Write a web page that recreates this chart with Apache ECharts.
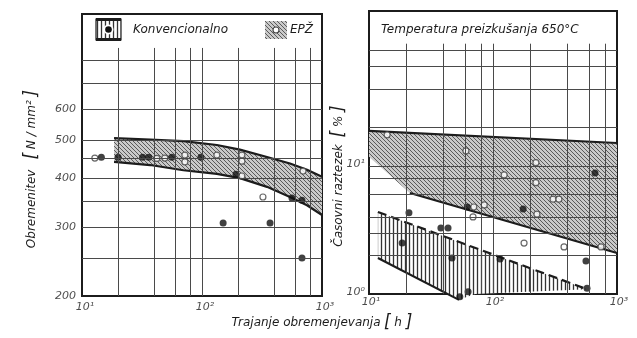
<!DOCTYPE html>
<html>
<head>
<meta charset="utf-8">
<script src="https://cdn.jsdelivr.net/npm/echarts@6/dist/echarts.min.js"></script>
<style>
  html, body { margin: 0; padding: 0; background: #fff; }
  #chart { width: 637px; height: 338px; }
</style>
</head>
<body>
<div id="chart"></div>
<script>
// ---- tick labels ----
const durationTicks = [10, 100, 1000];          // trajanje [h]
const stressTicks = [200, 300, 400, 500, 600];  // obremenitev [N/mm2]
const strainTicks = [1, 10];                    // casovni raztezek [%]

// ---- grid lines ----
const durationGrid = [20, 40, 60, 80, 100, 200, 400, 600, 800];
const stressGrid = [250, 300, 350, 400, 450, 500, 600, 700, 800];
const strainGrid = [2, 3, 4, 6, 8, 10, 20, 40, 60, 80];

// ---- stress: EPŽ scatter band ----
const stressBandX = [18.5, 37, 70, 133, 207, 348, 541, 750, 1000];
const stressBandUpper = [506, 502, 497, 486, 473, 453, 436, 420, 403];
const stressBandLower = [440, 432, 419, 410, 400, 380, 358, 341, 322];

// ---- stress: test results [h, N/mm2] ----
const stressConv = [[14.5, 452], [20, 452], [32, 452], [36, 452], [56, 452], [98, 452],
  [192, 409], [562, 356], [681, 351], [150, 307], [369, 307], [681, 250]];
const stressEpz = [[12.8, 450], [42, 449], [49, 450], [72, 458], [72, 440], [133, 458],
  [215, 458], [215, 442], [215, 405], [322, 358], [695, 417]];

// ---- strain: scatter bands [h, %] ----
const strainEpzBand = [[10, 18.8], [1000, 15.1], [1000, 2.09], [21.4, 6.15], [10, 11.8]];
const strainConvBand = [[11.8, 4.37], [573, 1.09], [71.6, 1.0], [53.2, 0.90], [11.8, 1.91]];

// ---- strain: test results [h, %] ----
const strainConv = [[21, 4.3], [18.5, 2.5], [38, 3.28], [43.4, 3.28], [46.7, 1.91], [54, 0.95],
  [63, 1.04], [62, 4.78], [114, 1.88], [175, 4.61], [665, 8.8], [562, 1.81], [573, 1.11]];
const strainEpz = [[14, 17.5], [60.5, 13.1], [222, 10.6], [123, 8.5], [222, 7.4], [305, 5.5],
  [340, 5.5], [226, 4.2], [70, 4.78], [85, 4.96], [69, 4.0], [178, 2.5], [374, 2.33], [743, 2.33]];

const FONT = '"DejaVu Sans", "Liberation Sans", sans-serif';
const INK = '#1c1c1c';
const SUP = { 0: '\u2070', 1: '\u00b9', 2: '\u00b2', 3: '\u00b3' };

// hatch fills
function hatch(kind) {
  const c = document.createElement('canvas');
  const s = 4;
  c.width = s; c.height = s;
  const g = c.getContext('2d');
  if (kind === 'diag') {
    g.fillStyle = '#c9c9c9';
    g.fillRect(0, 0, s, s);
    g.strokeStyle = '#5a5a5a';
    g.lineWidth = 1;
    for (let k = -1; k <= 1; k++) {
      g.beginPath();
      g.moveTo(k * s - 1, -1);
      g.lineTo(k * s + s + 1, s + 1);
      g.stroke();
    }
  } else {
    g.fillStyle = '#ffffff';
    g.fillRect(0, 0, s, s);
    g.strokeStyle = '#333333';
    g.lineWidth = 1.3;
    g.beginPath();
    g.moveTo(1.5, 0);
    g.lineTo(1.5, s);
    g.stroke();
  }
  return { type: 'pattern', image: c, repeat: 'repeat' };
}
const diagFill = hatch('diag');
const vertFill = hatch('vert');

const supLabel = v => '10' + SUP[Math.round(Math.log10(v))];

function gridLines(xs, ys, xRange, yRange) {
  const out = [];
  xs.forEach(x => out.push([{ coord: [x, yRange[0]] }, { coord: [x, yRange[1]] }]));
  ys.forEach(y => out.push([{ coord: [xRange[0], y] }, { coord: [xRange[1], y] }]));
  return out;
}

function polygonSeries(idx, points, fill) {
  return {
    type: 'custom', xAxisIndex: idx, yAxisIndex: idx, clip: false, silent: true, z: 2,
    data: [points[0]],
    renderItem: (params, api) => ({
      type: 'polygon',
      shape: { points: points.map(p => api.coord(p)) },
      style: { fill: fill, stroke: null }
    })
  };
}

function edgeSeries(idx, pts, dashed) {
  return {
    type: 'line', xAxisIndex: idx, yAxisIndex: idx, data: pts, clip: false, silent: true, z: 3,
    showSymbol: false, symbol: 'none',
    lineStyle: { color: INK, width: 2.2, type: dashed ? [9, 5] : 'solid' }
  };
}

function pointSeries(idx, pts, filled) {
  return {
    type: 'scatter', xAxisIndex: idx, yAxisIndex: idx, data: pts, clip: false, silent: true, z: 4,
    symbol: 'circle', symbolSize: filled ? 7 : 6,
    itemStyle: filled
      ? { color: '#111', borderColor: '#111', borderWidth: 0 }
      : { color: '#fff', borderColor: '#444', borderWidth: 1.2 }
  };
}

function labelSeries(idx, pts, position, formatter, offset, withLines) {
  const s = {
    type: 'scatter', xAxisIndex: idx, yAxisIndex: idx, data: pts, clip: false, silent: true, z: 1,
    symbolSize: 0.01, itemStyle: { color: 'transparent' },
    label: {
      show: true, position: position, distance: 5, offset: offset || [0, 0],
      formatter: formatter, fontFamily: FONT, fontStyle: 'italic', fontSize: 11, color: INK
    }
  };
  if (withLines) {
    s.markLine = {
      silent: true, symbol: ['none', 'none'], animation: false,
      label: { show: false },
      lineStyle: { color: '#4a4a4a', width: 1, type: 'solid' },
      emphasis: { disabled: true },
      data: withLines
    };
  }
  return s;
}

const stressPoly = stressBandX.map((x, i) => [x, stressBandUpper[i]])
  .concat(stressBandX.map((x, i) => [x, stressBandLower[i]]).reverse());

const axisBase = {
  axisLine: { show: false }, axisTick: { show: false },
  axisLabel: { show: false }, splitLine: { show: false }
};

const chart = echarts.init(document.getElementById('chart'), null, { renderer: 'canvas' });
chart.setOption({
  animation: false,
  backgroundColor: '#fff',
  grid: [
    { left: 82, top: 14, width: 240, height: 282, show: true, borderColor: INK, borderWidth: 2, backgroundColor: 'transparent' },
    { left: 369, top: 11, width: 248, height: 283, show: true, borderColor: INK, borderWidth: 2, backgroundColor: 'transparent' }
  ],
  xAxis: [
    Object.assign({ type: 'log', logBase: 10, min: 10, max: 1000, gridIndex: 0 }, axisBase),
    Object.assign({ type: 'log', logBase: 10, min: 10, max: 1000, gridIndex: 1 }, axisBase)
  ],
  yAxis: [
    Object.assign({ type: 'log', logBase: 10, min: 200, max: 1050, gridIndex: 0 }, axisBase),
    Object.assign({ type: 'log', logBase: 10, min: 1, max: 162, gridIndex: 1 }, axisBase)
  ],
  series: [
    // tick labels and grid lines
    labelSeries(0, durationTicks.map(v => [v, 200]), 'bottom', p => supLabel(p.value[0]), [3, 1],
      gridLines(durationGrid, stressGrid, [10, 1000], [200, 860])),
    labelSeries(0, stressTicks.map(v => [10, v]), 'left', p => String(p.value[1]), [-1, 0]),
    labelSeries(1, durationTicks.map(v => [v, 1]), 'bottom', p => supLabel(p.value[0]), [2, -2],
      gridLines(durationGrid, strainGrid, [10, 1000], [1, 90])),
    labelSeries(1, strainTicks.map(v => [10, v]), 'left', p => supLabel(p.value[1]), [1, -2]),

    // stress band
    polygonSeries(0, stressPoly, diagFill),
    edgeSeries(0, stressBandX.map((x, i) => [x, stressBandUpper[i]])),
    edgeSeries(0, stressBandX.map((x, i) => [x, stressBandLower[i]])),
    pointSeries(0, stressEpz, false),
    pointSeries(0, stressConv, true),

    // strain bands
    polygonSeries(1, strainEpzBand, diagFill),
    polygonSeries(1, strainConvBand, vertFill),
    edgeSeries(1, [strainEpzBand[0], strainEpzBand[1]]),
    edgeSeries(1, [strainEpzBand[3], strainEpzBand[2]]),
    edgeSeries(1, [strainConvBand[0], strainConvBand[1]], true),
    edgeSeries(1, [strainConvBand[4], strainConvBand[3]]),
    pointSeries(1, strainEpz, false),
    pointSeries(1, strainConv, true)
  ],
  graphic: [
    // legend: Konvencionalno
    { type: 'rect', shape: { x: 96, y: 19, width: 25, height: 21 }, style: { fill: vertFill, stroke: INK, lineWidth: 1.2 }, z: 10 },
    { type: 'rect', shape: { x: 96, y: 18, width: 25, height: 3 }, style: { fill: INK }, z: 10 },
    { type: 'rect', shape: { x: 96, y: 38, width: 25, height: 3 }, style: { fill: INK }, z: 10 },
    { type: 'circle', shape: { cx: 108.5, cy: 29.5, r: 5 }, style: { fill: '#fff' }, z: 10 },
    { type: 'circle', shape: { cx: 108.5, cy: 29.5, r: 3.3 }, style: { fill: '#111' }, z: 10 },
    { type: 'text', x: 133, y: 30, z: 10, style: { text: 'Konvencionalno', fontFamily: FONT, fontStyle: 'italic', fontSize: 12, fill: INK, verticalAlign: 'middle' } },
    // legend: EPŽ
    { type: 'rect', shape: { x: 265, y: 21, width: 22, height: 18 }, style: { fill: diagFill }, z: 10 },
    { type: 'circle', shape: { cx: 276, cy: 30, r: 3 }, style: { fill: '#fff', stroke: '#444', lineWidth: 1.1 }, z: 10 },
    { type: 'text', x: 290, y: 30, z: 10, style: { text: 'EPŽ', fontFamily: FONT, fontStyle: 'italic', fontSize: 12, fill: INK, verticalAlign: 'middle' } },
    // strain panel title
    { type: 'text', x: 381, y: 30, z: 10, style: { text: 'Temperatura preizkušanja 650°C', fontFamily: FONT, fontStyle: 'italic', fontSize: 12, fill: INK, verticalAlign: 'middle' } },
    // axis names
    { type: 'text', x: 32, y: 169, rotation: Math.PI / 2, z: 10, style: {
      text: '{a|Obremenitev}   {b|[}{a| N / mm² }{b|]}', align: 'center', verticalAlign: 'middle',
      rich: { a: { fontFamily: FONT, fontStyle: 'italic', fontSize: 12, fill: INK },
              b: { fontFamily: FONT, fontStyle: 'italic', fontSize: 17, fill: INK } } } },
    { type: 'text', x: 339, y: 176, rotation: Math.PI / 2, z: 10, style: {
      text: '{a|Časovni raztezek}  {b|[}{a| % }{b|]}', align: 'center', verticalAlign: 'middle',
      rich: { a: { fontFamily: FONT, fontStyle: 'italic', fontSize: 12, fill: INK },
              b: { fontFamily: FONT, fontStyle: 'italic', fontSize: 17, fill: INK } } } },
    { type: 'text', x: 322, y: 323, z: 10, style: {
      text: '{a|Trajanje obremenjevanja} {b|[}{a| h }{b|]}', align: 'center', verticalAlign: 'middle',
      rich: { a: { fontFamily: FONT, fontStyle: 'italic', fontSize: 12, fill: INK },
              b: { fontFamily: FONT, fontStyle: 'italic', fontSize: 17, fill: INK } } } }
  ]
});
</script>
</body>
</html>
